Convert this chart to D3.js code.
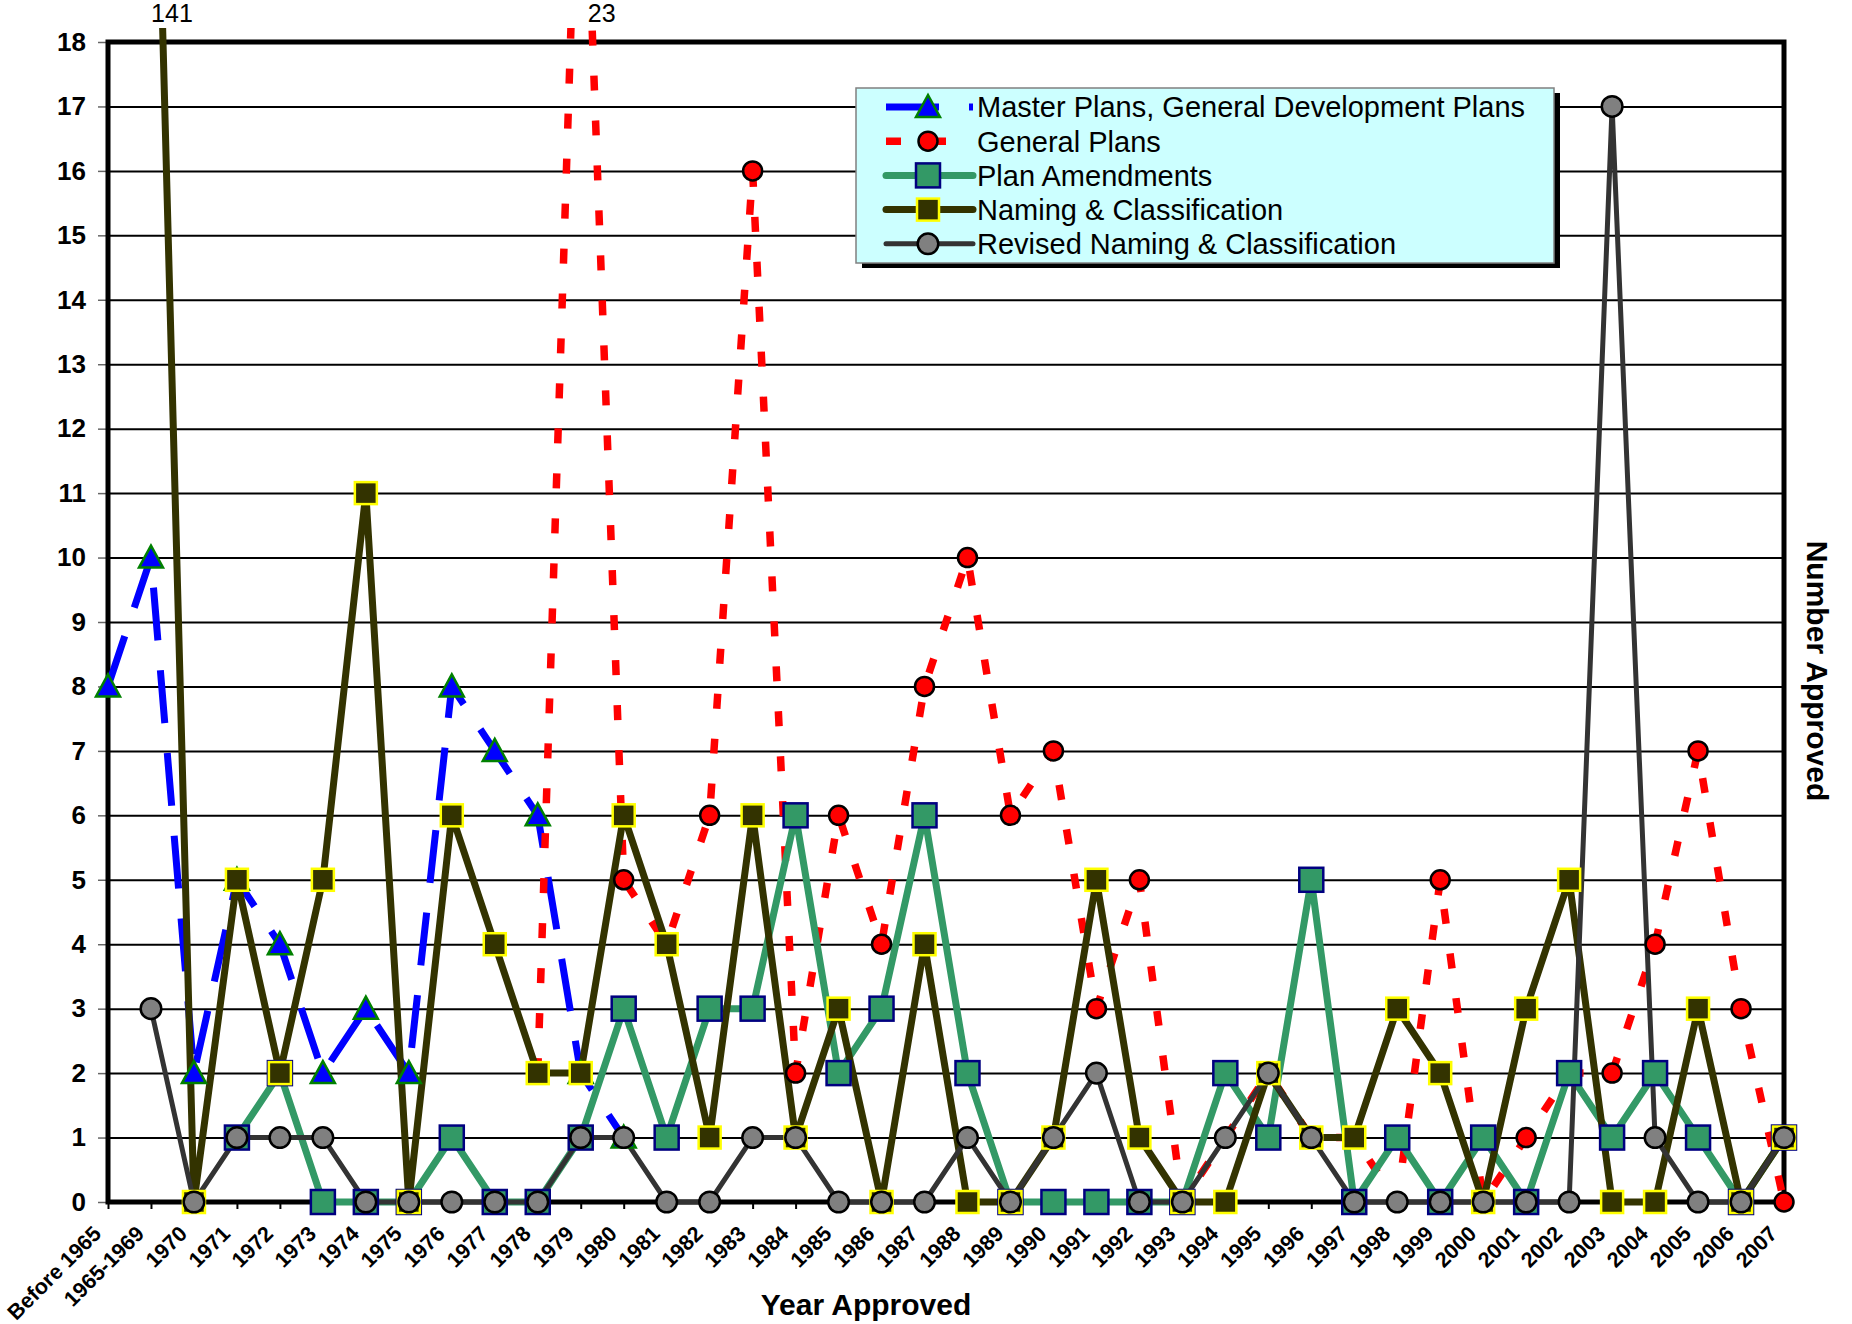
<!DOCTYPE html>
<html>
<head>
<meta charset="utf-8">
<script src="https://cdn.jsdelivr.net/npm/d3@7"></script>
<style>
  body { margin: 0; background: #fff; }
  text { font-family: "Liberation Sans", Arial, sans-serif; fill: #000; }
</style>
</head>
<body>
<div id="chart"></div>
<script>
// Categories along the x axis
const categories = [
  "Before 1965", "1965-1969", "1970", "1971", "1972", "1973", "1974", "1975",
  "1976", "1977", "1978", "1979", "1980", "1981", "1982", "1983", "1984",
  "1985", "1986", "1987", "1988", "1989", "1990", "1991", "1992", "1993",
  "1994", "1995", "1996", "1997", "1998", "1999", "2000", "2001", "2002",
  "2003", "2004", "2005", "2006", "2007"
];

// Series values, one per category (null = no value)
const masterPlans = [8, 10, 2, 5, 4, 2, 3, 2, 8, 7, 6, 2, 1,
  null, null, null, null, null, null, null, null, null, null, null, null, null, null,
  null, null, null, null, null, null, null, null, null, null, null, null, null];
const generalPlans = [null, null, null, null, null, null, null, null, null, null,
  2, 23, 5, 4, 6, 16, 2, 6, 4, 8, 10, 6, 7, 3, 5, 0, 1, 2, 1, 1, 0, 5, 0, 1, 2, 2, 4, 7, 3, 0];
const planAmendments = [null, null, null, 1, 2, 0, 0, 0, 1, 0, 0, 1, 3, 1, 3, 3, 6, 2, 3, 6,
  2, 0, 0, 0, 0, 0, 2, 1, 5, 0, 1, 0, 1, 0, 2, 1, 2, 1, 0, 1];
const namingClassification = [141, 25, 0, 5, 2, 5, 11, 0, 6, 4, 2, 2, 6, 4, 1, 6, 1, 3, 0, 4,
  0, 0, 1, 5, 1, 0, 0, 2, 1, 1, 3, 2, 0, 3, 5, 0, 0, 3, 0, 1];
const revisedNaming = [null, 3, 0, 1, 1, 1, 0, 0, 0, 0, 0, 1, 1, 0, 0, 1, 1, 0, 0, 0,
  1, 0, 1, 2, 0, 0, 1, 2, 1, 0, 0, 0, 0, 0, 0, 17, 1, 0, 0, 1];

// Off-scale notes written above the plot
const offScaleNotes = [
  { category: "1965-1969", text: "141" },
  { category: "1979", text: "23" }
];

const yMax = 18;

const series = [
  { name: "Master Plans, General Development Plans", values: masterPlans,
    color: "#0000ff", width: 7, dash: "53,30", cap: "butt",
    marker: "triangle", fill: "#0000ff", edge: "#008000" },
  { name: "General Plans", values: generalPlans,
    color: "#ff0000", width: 7.5, dash: "15,30", cap: "butt",
    marker: "circle", r: 9.5, fill: "#ff0000", edge: "#000" },
  { name: "Plan Amendments", values: planAmendments,
    color: "#339966", width: 7, dash: null, cap: "round",
    marker: "square", side: 24, fill: "#339966", edge: "#000080" },
  { name: "Naming & Classification", values: namingClassification,
    color: "#333300", width: 7, dash: null, cap: "round",
    marker: "square", side: 22, fill: "#333300", edge: "#ffff00" },
  { name: "Revised Naming & Classification", values: revisedNaming,
    color: "#333333", width: 5, dash: null, cap: "round",
    marker: "circle", r: 10.3, fill: "#808080", edge: "#000" }
];

const W = 1852, H = 1324;
const margin = { top: 42, right: 68, bottom: 122, left: 108 };
const width = W - margin.left - margin.right;
const height = H - margin.top - margin.bottom;

const svg = d3.select("#chart").append("svg")
  .attr("width", W).attr("height", H)
  .style("background", "#fff");

svg.append("defs").append("clipPath").attr("id", "plotClip")
  .append("rect")
  .attr("x", -40).attr("y", -14)
  .attr("width", width + 80).attr("height", height + 40);

const g = svg.append("g").attr("transform", `translate(${margin.left},${margin.top})`);

const x = d3.scalePoint().domain(categories).range([0, width]).padding(0);
const y = d3.scaleLinear().domain([0, yMax]).range([height, 0]);

// Horizontal gridlines
const grid = g.append("g")
  .call(d3.axisLeft(y).tickValues(y.ticks(yMax).filter(t => t > 0 && t < yMax))
    .tickSize(-width).tickFormat(""));
grid.select(".domain").remove();
grid.selectAll("line").attr("stroke", "#000").attr("stroke-width", 2);

// Y axis
const yAxis = g.append("g")
  .call(d3.axisLeft(y).ticks(yMax).tickSize(10).tickPadding(12).tickFormat(d3.format("d")));
yAxis.select(".domain").remove();
yAxis.selectAll("line").attr("stroke", "#666").attr("stroke-width", 1.5);
yAxis.selectAll("text")
  .style("font-size", "26px").style("font-weight", "bold")
  .style("font-family", "'Liberation Sans', Arial, sans-serif");

// X axis
const xAxis = g.append("g")
  .attr("transform", `translate(0,${height})`)
  .call(d3.axisBottom(x).tickSize(7));
xAxis.select(".domain").remove();
xAxis.selectAll("line").attr("stroke", "#000").attr("stroke-width", 2);
xAxis.selectAll("text")
  .attr("x", 0).attr("y", 0).attr("dy", 0)
  .attr("text-anchor", "end")
  .attr("transform", "translate(-6,33) rotate(-45)")
  .style("font-size", "21.5px").style("font-weight", "bold")
  .style("font-family", "'Liberation Sans', Arial, sans-serif");

// Plot frame
g.append("rect")
  .attr("width", width).attr("height", height)
  .attr("fill", "none").attr("stroke", "#000").attr("stroke-width", 5);

// Lines
const line = d3.line()
  .defined(d => d.v !== null)
  .x(d => x(d.cat))
  .y(d => y(d.v));

const lineLayer = g.append("g").attr("clip-path", "url(#plotClip)");
series.forEach(s => {
  const pts = categories.map((c, i) => ({ cat: c, v: s.values[i] }));
  lineLayer.append("path")
    .datum(pts)
    .attr("fill", "none")
    .attr("stroke", s.color)
    .attr("stroke-width", s.width)
    .attr("stroke-dasharray", s.dash)
    .attr("stroke-linecap", s.cap)
    .attr("stroke-linejoin", "round")
    .attr("d", line);
});

function drawMarker(sel, s, cx, cy) {
  if (s.marker === "triangle") {
    sel.append("path")
      .attr("d", `M${cx},${cy - 12}L${cx + 12},${cy + 10}L${cx - 12},${cy + 10}Z`)
      .attr("fill", s.fill).attr("stroke", s.edge).attr("stroke-width", 2.5)
      .attr("stroke-linejoin", "miter");
  } else if (s.marker === "square") {
    sel.append("rect")
      .attr("x", cx - s.side / 2).attr("y", cy - s.side / 2)
      .attr("width", s.side).attr("height", s.side)
      .attr("fill", s.fill).attr("stroke", s.edge).attr("stroke-width", 2.5);
  } else {
    sel.append("circle")
      .attr("cx", cx).attr("cy", cy).attr("r", s.r)
      .attr("fill", s.fill).attr("stroke", s.edge).attr("stroke-width", 2.5);
  }
}

// Markers on top of all lines
const markerLayer = g.append("g");
series.forEach(s => {
  s.values.forEach((v, i) => {
    if (v === null || v > yMax) return;
    drawMarker(markerLayer, s, x(categories[i]), y(v));
  });
});

// Off-scale value notes
offScaleNotes.forEach(n => {
  g.append("text")
    .attr("x", x(n.category) + 21)
    .attr("y", -20)
    .attr("text-anchor", "middle")
    .style("font-size", "25px")
    .text(n.text);
});

// Axis titles
svg.append("text")
  .attr("x", 866).attr("y", 1315)
  .attr("text-anchor", "middle")
  .style("font-size", "30px").style("font-weight", "bold")
  .text("Year Approved");

svg.append("text")
  .attr("transform", "translate(1807,671) rotate(90)")
  .attr("text-anchor", "middle")
  .style("font-size", "30px").style("font-weight", "bold")
  .text("Number Approved");

// Legend
const legend = svg.append("g").attr("transform", "translate(856,88)");
const legW = 698, legH = 175;
legend.append("rect")
  .attr("x", 6).attr("y", 5).attr("width", legW).attr("height", legH)
  .attr("fill", "#000");
legend.append("rect")
  .attr("width", legW).attr("height", legH)
  .attr("fill", "#ccffff").attr("stroke", "#808080").attr("stroke-width", 1.5);

series.forEach((s, i) => {
  const ry = 19 + i * 34.2;
  legend.append("line")
    .attr("x1", 30).attr("x2", 117)
    .attr("y1", ry).attr("y2", ry)
    .attr("stroke", s.color).attr("stroke-width", s.width)
    .attr("stroke-dasharray", s.dash)
    .attr("stroke-linecap", s.cap);
  drawMarker(legend, s, 72, ry);
  legend.append("text")
    .attr("x", 121).attr("y", ry)
    .attr("dy", "0.36em")
    .style("font-size", "29px")
    .text(s.name);
});
</script>
</body>
</html>
